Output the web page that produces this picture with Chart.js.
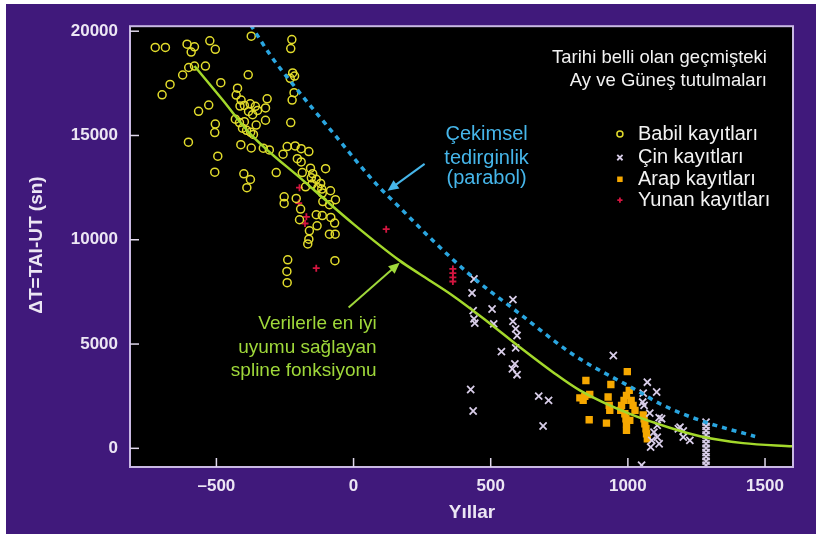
<!DOCTYPE html>
<html>
<head>
<meta charset="utf-8">
<script src="https://cdn.jsdelivr.net/npm/chart.js@4/dist/chart.umd.min.js"></script>
<style>
  html, body { margin: 0; padding: 0; background: #ffffff; }
  #wrap { position: absolute; left: 6px; top: 4px; width: 810px; height: 530px; background: #40197b; }
  canvas { display: block; }
</style>
</head>
<body>
<div id="wrap"><canvas id="dtChart" width="810" height="530"></canvas></div>
<script>
// axis ranges and ticks
const xTicks = [-500, 0, 500, 1000, 1500];
const yTicks = [0, 5000, 10000, 15000, 20000];

// Babil kayıtları (yellow circles) [yıl, ΔT]
const babil = [
  [-723,19220],[-686,19220],[-607,19380],[-580,19250],[-592,19000],[-524,19540],[-504,19130],[-373,19760],
  [-601,18260],[-623,17900],[-580,18330],[-540,18330],[-669,17450],[-698,16950],[-484,17530],[-384,17910],
  [-423,17270],[-428,16940],[-410,16700],[-528,16460],[-565,16160],[-414,16410],
  [-398,16440],[-377,16520],[-358,16400],[-350,16200],[-368,16000],[-383,16150],
  [-355,15500],[-431,15780],[-416,15620],[-398,15660],[-504,15550],[-506,15140],
  [-405,15350],[-390,15250],[-375,15150],[-365,15050],
  [-602,14680],[-411,14560],[-373,14400],[-495,14010],[-506,13240],[-400,13160],[-376,12890],[-389,12500],
  [-225,19600],[-229,19170],[-222,18000],[-215,17850],[-231,17740],[-217,17050],[-224,16700],
  [-315,16760],[-321,16320],[-321,15730],[-229,15620],
  [-329,14390],[-307,14310],[-242,14470],[-213,14500],[-191,14370],[-163,14230],[-257,14100],
  [-205,13890],[-191,13730],[-282,13220],[-187,13220],[-157,13430],[-149,13170],[-154,12970],
  [-136,12900],[-102,13410],[-120,12700],[-116,12430],[-84,12350],[-66,11920],[-253,12060],
  [-209,11980],[-253,11740],[-112,11830],
  [-175,12540],[-151,12670],[-130,12500],[-114,12240],[-193,11470],[-88,11680],
  [-136,11200],[-114,11160],[-197,10960],[-83,11070],[-69,10800],[-133,10670],[-161,10430],
  [-88,10270],[-67,10270],[-163,10030],[-167,9800],[-240,9040],[-243,8480],[-242,7940],[-68,9000]
];

// Çin kayıtları (crosses)
const cin = [
  [439,8120],[432,7450],[436,6600],[439,6210],[442,6000],[581,7130],[505,6680],[511,5970],
  [581,6090],[591,5730],[596,5410],[591,4820],[539,4640],[588,4050],[579,3810],[596,3530],
  [427,2820],[436,1790],[675,2500],[711,2300],[691,1070],
  [947,4450],[1071,3170],[1105,2700],[1056,2650],[1054,2220],[1059,2060],[1080,1690],[1114,1470],
  [1107,1100],[1095,780],[1107,540],[1114,220],[1087,380],[1083,60],[1184,940],[1202,540],
  [1226,380],[1050,-810],[1123,1420],[1190,1020],[1202,830],
  [1285,1260],[1285,1050],[1285,850],[1285,640],[1285,430],[1285,220],[1285,10],
  [1285,-200],[1285,-400],[1285,-610],[1285,-810]
];

// Arap kayıtları (squares)
const arap = [
  [847,3250],[998,3680],[938,3060],[825,2420],[843,2490],[861,2580],[837,2300],[859,1370],
  [928,2460],[932,2060],[934,1820],[922,1210],[1005,2780],[995,2540],[986,2300],[977,2060],
  [974,1820],[989,1660],[993,1420],[995,1180],[1019,2060],[1026,1820],[1012,2300],
  [1059,1420],[1062,1180],[1066,940],[1068,700],[1071,460],[1056,1600],[995,860],[1007,1340]
];

// Yunan kayıtları (plus)
const yunan = [
  [-197,12500],[-200,11760],[-172,11100],[-177,10780],[-136,8640],[119,10510],
  [362,8600],[362,8400],[362,8200],[362,8000]
];

// spline fit (green) and gravitational parabola (blue dashed)
const splineYears = [-580, -480, -380, -180, 0, 168, 241, 362, 484, 606, 727, 825, 1007, 1150, 1263, 1420, 1600];
const splineDT    = [18330, 16750, 15130, 12800, 10750, 9000, 8360, 7320, 6120, 4850, 3650, 2780, 1650, 1000, 580, 250, 100];
const parabolYears = [-375, -300, -221, -75, 83, 168, 290, 435, 606, 800, 1032, 1117, 1263, 1464];
const parabolDT    = [20300, 18790, 17450, 15130, 12670, 11550, 9950, 8200, 6450, 4500, 2780, 2140, 1340, 570];

const legendLabels = ['Babil kayıtları', 'Çin kayıtları', 'Arap kayıtları', 'Yunan kayıtları'];

const toXY = arr => arr.map(p => ({ x: p[0], y: p[1] }));
const zipXY = (xs, ys) => xs.map((x, i) => ({ x: x, y: ys[i] }));

const FONT = '"Liberation Sans", Arial, sans-serif';
const TXT = '#ece6f4';

function arrow(ctx, x1, y1, x2, y2, color) {
    const ang = Math.atan2(y2 - y1, x2 - x1);
    const len = 11, half = 5;
    ctx.save();
    ctx.strokeStyle = color;
    ctx.fillStyle = color;
    ctx.lineWidth = 2;
    ctx.beginPath();
    ctx.moveTo(x1, y1);
    ctx.lineTo(x2 - Math.cos(ang) * len * 0.8, y2 - Math.sin(ang) * len * 0.8);
    ctx.stroke();
    ctx.beginPath();
    ctx.moveTo(x2, y2);
    ctx.lineTo(x2 - Math.cos(ang) * len - Math.sin(ang) * half, y2 - Math.sin(ang) * len + Math.cos(ang) * half);
    ctx.lineTo(x2 - Math.cos(ang) * len + Math.sin(ang) * half, y2 - Math.sin(ang) * len - Math.cos(ang) * half);
    ctx.closePath();
    ctx.fill();
    ctx.restore();
}

// frame, inner tick marks, notes, legend and axis titles
const decor = {
    id: 'decor',
    beforeDatasetsDraw(chart) {
        const { ctx, chartArea: a } = chart;
        ctx.save();
        ctx.fillStyle = '#000000';
        ctx.fillRect(a.left, a.top, a.right - a.left, a.bottom - a.top);
        ctx.restore();
    },
    afterDraw(chart) {
        const { ctx, chartArea: a, scales: { x, y } } = chart;
        ctx.save();
        // frame
        ctx.strokeStyle = '#c9b9e3';
        ctx.lineWidth = 2;
        ctx.strokeRect(a.left, a.top, a.right - a.left, a.bottom - a.top);
        // ticks inside the frame
        ctx.lineWidth = 1.5;
        ctx.strokeStyle = '#e0d8ec';
        xTicks.forEach(v => {
            const px = x.getPixelForValue(v);
            ctx.beginPath(); ctx.moveTo(px, a.bottom); ctx.lineTo(px, a.bottom - 9); ctx.stroke();
        });
        yTicks.forEach(v => {
            const py = y.getPixelForValue(v);
            ctx.beginPath(); ctx.moveTo(a.left, py); ctx.lineTo(a.left + 9, py); ctx.stroke();
        });

        // top-right note
        ctx.fillStyle = '#f2f2f2';
        ctx.font = '18.5px ' + FONT;
        ctx.textAlign = 'right';
        ctx.textBaseline = 'middle';
        ctx.fillText('Tarihi belli olan geçmişteki', x.getPixelForValue(1507), y.getPixelForValue(18710));
        ctx.fillText('Ay ve Güneş tutulmaları', x.getPixelForValue(1507), y.getPixelForValue(17610));

        // legend
        const rowY = [15070, 13940, 12900, 11900];
        const lx = x.getPixelForValue(971), tx = x.getPixelForValue(1037);
        const styles = chart.data.datasets.slice(0, 4);
        ctx.font = '20px ' + FONT;
        ctx.textAlign = 'left';
        legendLabels.forEach((lab, i) => {
            const py = y.getPixelForValue(rowY[i]);
            const ds = styles[i];
            ctx.save();
            ctx.strokeStyle = ds.borderColor;
            ctx.fillStyle = ds.backgroundColor;
            ctx.lineWidth = ds.borderWidth;
            Chart.helpers.drawPoint(ctx, { pointStyle: ds.pointStyle, radius: ds.pointRadius * 0.75, borderWidth: ds.borderWidth }, lx, py);
            ctx.restore();
            ctx.fillStyle = '#f2f2f2';
            ctx.fillText(lab, tx, py);
        });

        // blue note
        ctx.fillStyle = '#46b6ea';
        ctx.font = '20px ' + FONT;
        ctx.textAlign = 'center';
        ['Çekimsel', 'tedirginlik', '(parabol)'].forEach((t, i) => {
            ctx.fillText(t, x.getPixelForValue(485), y.getPixelForValue([15070, 13920, 12920][i]));
        });
        arrow(ctx, x.getPixelForValue(259), y.getPixelForValue(13640),
              x.getPixelForValue(124), y.getPixelForValue(12345), '#46b6ea');

        // green note
        ctx.fillStyle = '#9fd83a';
        ctx.font = '19px ' + FONT;
        ctx.textAlign = 'right';
        ['Verilerle en iyi', 'uyumu sağlayan', 'spline fonksiyonu'].forEach((t, i) => {
            ctx.fillText(t, x.getPixelForValue(84), y.getPixelForValue([5980, 4830, 3730][i]));
        });
        arrow(ctx, x.getPixelForValue(-18), y.getPixelForValue(6750),
              x.getPixelForValue(168), y.getPixelForValue(8900), '#9fd83a');

        // axis titles
        ctx.fillStyle = TXT;
        ctx.font = 'bold 19px ' + FONT;
        ctx.textAlign = 'center';
        ctx.fillText('Yıllar', 466, 509);
        ctx.translate(31, 241);
        ctx.rotate(-Math.PI / 2);
        ctx.fillText('\u0394T=TAI-UT (sn)', 0, 0);
        ctx.restore();
    }
};

const tickFont = { family: FONT, size: 17, weight: 'bold' };

const ctx = document.getElementById('dtChart').getContext('2d');
new Chart(ctx, {
    type: 'scatter',
    data: {
        datasets: [
            { label: legendLabels[0], data: toXY(babil), pointStyle: 'circle', pointRadius: 4,
              borderColor: '#e2dc2c', backgroundColor: 'rgba(0,0,0,0)', borderWidth: 1.5, order: 2 },
            { label: legendLabels[1], data: toXY(cin), pointStyle: 'crossRot', pointRadius: 5,
              borderColor: '#d8cde8', backgroundColor: '#d8cde8', borderWidth: 1.8, order: 2 },
            { label: legendLabels[2], data: toXY(arap), pointStyle: 'rect', pointRadius: 5.2,
              borderColor: '#f6a800', backgroundColor: '#f6a800', borderWidth: 0, order: 2 },
            { label: legendLabels[3], data: toXY(yunan), pointStyle: 'cross', pointRadius: 3.5,
              borderColor: '#d41640', backgroundColor: '#d41640', borderWidth: 1.8, order: 2 },
            { label: 'spline', data: zipXY(splineYears, splineDT), showLine: true, pointRadius: 0,
              borderColor: '#a3d82b', borderWidth: 2.5, cubicInterpolationMode: 'monotone', order: 0 },
            { label: 'parabol', data: zipXY(parabolYears, parabolDT), showLine: true, pointRadius: 0,
              borderColor: '#2aa6e0', borderWidth: 3.5, borderDash: [5, 5], cubicInterpolationMode: 'monotone', order: 1 }
        ]
    },
    options: {
        responsive: false,
        animation: false,
        layout: { padding: { left: 0, right: 23, top: 21, bottom: 0 } },
        plugins: { legend: { display: false }, tooltip: { enabled: false } },
        scales: {
            x: {
                type: 'linear', min: -815, max: 1602,
                afterBuildTicks: s => { s.ticks = xTicks.map(v => ({ value: v })); },
                afterFit: s => { s.height = 67; },
                grid: { display: false, drawTicks: false },
                border: { display: false },
                ticks: { color: TXT, font: tickFont, padding: 9, maxRotation: 0,
                         callback: v => v < 0 ? '\u2013' + Math.abs(v) : String(v) }
            },
            y: {
                type: 'linear', min: -895, max: 20240,
                afterBuildTicks: s => { s.ticks = yTicks.map(v => ({ value: v })); },
                afterFit: s => { s.width = 124; },
                grid: { display: false, drawTicks: false },
                border: { display: false },
                ticks: { color: TXT, font: tickFont, padding: 12, callback: v => String(v) }
            }
        }
    },
    plugins: [decor]
});
</script>
</body>
</html>
